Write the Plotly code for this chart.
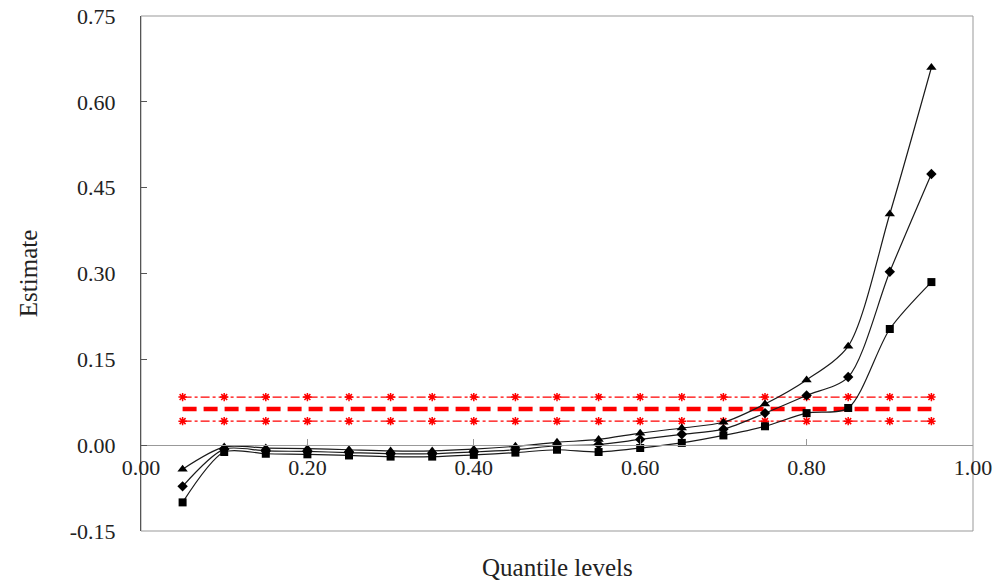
import plotly.graph_objects as go

quantiles = [0.05, 0.10, 0.15, 0.20, 0.25, 0.30, 0.35, 0.40, 0.45, 0.50,
             0.55, 0.60, 0.65, 0.70, 0.75, 0.80, 0.85, 0.90, 0.95]
series_triangle = [-0.042, -0.003, -0.005, -0.006, -0.008, -0.010, -0.010, -0.007, -0.002, 0.005,
                   0.010, 0.021, 0.030, 0.040, 0.072, 0.114, 0.173, 0.404, 0.660]
series_diamond = [-0.072, -0.007, -0.010, -0.011, -0.013, -0.015, -0.015, -0.012, -0.008, -0.001,
                  0.001, 0.010, 0.019, 0.028, 0.056, 0.087, 0.119, 0.303, 0.474]
series_square = [-0.100, -0.012, -0.015, -0.016, -0.018, -0.020, -0.020, -0.017, -0.013, -0.008,
                 -0.012, -0.005, 0.004, 0.017, 0.033, 0.056, 0.065, 0.203, 0.285]
upper_band = [0.084] * 19
mid_band = [0.063] * 19
lower_band = [0.042] * 19

x_ticks = [0.0, 0.2, 0.4, 0.6, 0.8, 1.0]
x_ticktext = ["0.00", "0.20", "0.40", "0.60", "0.80", "1.00"]
y_ticks = [-0.15, 0.0, 0.15, 0.30, 0.45, 0.60, 0.75]
y_ticktext = ["-0.15", "0.00", "0.15", "0.30", "0.45", "0.60", "0.75"]

fig = go.Figure()

red = "#ff0000"
for vals in (upper_band, lower_band):
    fig.add_trace(go.Scatter(
        x=quantiles, y=vals, mode="lines+markers",
        line=dict(color=red, width=1.2, dash="dashdot"),
        marker=dict(symbol="asterisk-open", size=7, color=red, line=dict(color=red, width=1.5)),
        showlegend=False))
fig.add_trace(go.Scatter(
    x=quantiles, y=mid_band, mode="lines",
    line=dict(color=red, width=4.5, dash="14px,7px"),
    showlegend=False))

for vals, sym, sz in ((series_triangle, "triangle-up", 9),
                      (series_diamond, "diamond", 8),
                      (series_square, "square", 8)):
    fig.add_trace(go.Scatter(
        x=quantiles, y=vals, mode="lines+markers",
        line=dict(color="#1a1a1a", width=1.2, shape="spline", smoothing=0.8),
        marker=dict(symbol=sym, size=sz, color="black"),
        showlegend=False))

font_family = "Liberation Serif"
fig.update_layout(
    width=995, height=586,
    margin=dict(l=141, r=22, t=16, b=55),
    paper_bgcolor="white", plot_bgcolor="white",
    font=dict(family=font_family, size=22, color="#222"),
    xaxis=dict(range=[0, 1], tickvals=x_ticks, ticktext=x_ticktext, automargin=False,
               showgrid=False, zeroline=False, showline=True, linecolor="#999", linewidth=1,
               ticks="inside", ticklen=6, tickcolor="#999", ticklabelstandoff=2,
               anchor="free", position=0.15 / 0.9),
    yaxis=dict(range=[-0.15, 0.75], tickvals=y_ticks, ticktext=y_ticktext, automargin=False,
               showgrid=False, zeroline=False, showline=True, linecolor="#555", linewidth=1,
               ticks="inside", ticklen=6, tickcolor="#555", ticklabelstandoff=20),
    shapes=[dict(type="rect", xref="paper", yref="paper", x0=0, y0=0, x1=1, y1=1,
                 line=dict(color="#999", width=1), layer="below")],
    annotations=[
        dict(text="Estimate", xref="paper", yref="paper", x=-0.135, y=0.5,
             textangle=-90, showarrow=False, font=dict(size=25, family=font_family),
             xanchor="center", yanchor="middle"),
        dict(text="Quantile levels", xref="paper", yref="paper", x=0.5, y=-0.07,
             showarrow=False, font=dict(size=25, family=font_family),
             xanchor="center", yanchor="middle"),
    ],
)

fig.write_html("out.html")
